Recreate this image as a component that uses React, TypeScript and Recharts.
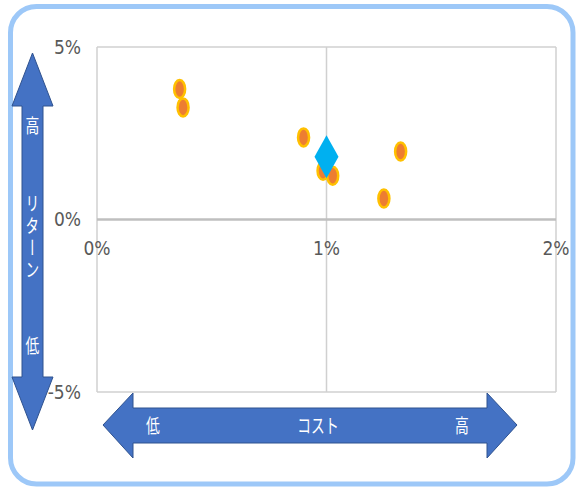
import React from 'react';
import { ScatterChart, Scatter, XAxis, YAxis, ReferenceLine, ReferenceDot } from 'recharts';

// Data (cost %, return %)
const fundCost = [0.36, 0.375, 0.9, 0.985, 1.027, 1.323, 1.25];
const fundReturn = [3.78, 3.25, 2.38, 1.41, 1.27, 1.97, 0.61];
const benchCost = [1.0];
const benchReturn = [1.82];
const xTicks = [0, 1, 2];
const yTicks = [-5, 0, 5];
const yAxisTitle = ['高', 'リターン', '低'];
const xAxisTitle = ['低', 'コスト', '高'];

const funds = fundCost.map((c, i) => ({ x: c, y: fundReturn[i] }));
const bench = benchCost.map((c, i) => ({ x: c, y: benchReturn[i] }));

const LABEL_FONT = "'Liberation Sans Narrow', 'DejaVu Sans Condensed', 'Noto Sans', sans-serif";
const CJK_FONT = "'Noto Sans CJK JP', sans-serif";
const GRID = '#d0d0d0';

const Ellipse = (props: any) => {
  const { cx, cy } = props;
  return <ellipse cx={cx} cy={cy} rx={5.5} ry={9} fill="#ED7D31" stroke="#FFC000" strokeWidth={2.5} />;
};

const Diamond = (props: any) => {
  const { cx, cy } = props;
  const w = 12, h = 21.5;
  return <polygon points={`${cx},${cy - h} ${cx + w},${cy} ${cx},${cy + h} ${cx - w},${cy}`} fill="#00B0F0" />;
};

const CjkText = ({ x, y, text, vertical }: { x: number; y: number; text: string; vertical?: boolean }) => (
  <text
    transform={`translate(${x},${y}) scale(0.95,1.35)`}
    textAnchor={vertical ? 'start' : 'middle'}
    dominantBaseline="central"
    fill="#ffffff"
    fontSize={14.5}
    fontFamily={CJK_FONT}
    letterSpacing={vertical ? 1.8 : 0}
    style={vertical ? { writingMode: 'vertical-rl' } : undefined}
  >
    {text}
  </text>
);

const Overlay = () => {
  const leftArrow = '32.5,53 53,106 43,106 43,377 53,377 32.5,430 12,377 22,377 22,106 12,106';
  const bottomArrow = '103,425 133,393 133,408 487,408 487,393 517,425 487,458 487,443 133,443 133,458';
  const leftY = [124, 194, 344];
  const bottomX = [153, 318, 462];
  return (
    <svg width={576} height={491} style={{ position: 'absolute', left: 0, top: 0, pointerEvents: 'none' }}>
      <polygon points={leftArrow} fill="#4472C4" stroke="#2F528F" strokeWidth={1} />
      <polygon points={bottomArrow} fill="#4472C4" stroke="#2F528F" strokeWidth={1} />
      {yAxisTitle.map((t, i) => (
        <CjkText key={'l' + i} x={32.5} y={leftY[i]} text={t} vertical={t.length > 1} />
      ))}
      {xAxisTitle.map((t, i) => (
        <CjkText key={'b' + i} x={bottomX[i]} y={424} text={t} />
      ))}
    </svg>
  );
};

export default function App() {
  return (
    <div style={{ position: 'absolute', left: 0, top: 0, width: 576, height: 491, background: '#fff' }}>
      <svg width={576} height={491} style={{ position: 'absolute', left: 0, top: 0 }}>
        <rect x={10.5} y={6.5} width={562.5} height={477.5} rx={26} ry={26} fill="#fff" stroke="#9DC8F8" strokeWidth={5} />
      </svg>
      <div style={{ position: 'absolute', left: 0, top: 0 }}>
        <ScatterChart width={576} height={491} margin={{ top: 47, right: 20, bottom: 99, left: 37 }}>
          <XAxis type="number" dataKey="x" domain={[0, 2]} ticks={xTicks} hide />
          <YAxis
            type="number"
            dataKey="y"
            domain={[-5, 5]}
            ticks={yTicks}
            width={60}
            axisLine={false}
            tickLine={false}
            tickSize={0}
            tickMargin={16}
            tickFormatter={(v: number) => `${v}%`}
            tick={{ fill: '#595959', fontSize: 19, fontFamily: LABEL_FONT }}
          />
          <ReferenceLine x={1} stroke={GRID} strokeWidth={1.5} />
          <ReferenceLine x={2} stroke={GRID} strokeWidth={1.5} />
          <ReferenceLine y={5} stroke={GRID} strokeWidth={1.5} />
          <ReferenceLine y={-5} stroke={GRID} strokeWidth={1.5} />
          <ReferenceLine x={0} stroke={GRID} strokeWidth={1.5} />
          <ReferenceLine y={0} stroke="#bfbfbf" strokeWidth={2.5} />
          {xTicks.map((t) => (
            <ReferenceDot
              key={t}
              x={t}
              y={0}
              r={0}
              fill="none"
              stroke="none"
              ifOverflow="visible"
              label={{ value: `${t}%`, position: 'bottom', offset: 22, fill: '#595959', fontSize: 19, fontFamily: LABEL_FONT }}
            />
          ))}
          <Scatter data={funds} shape={<Ellipse />} isAnimationActive={false} />
          <Scatter data={bench} shape={<Diamond />} isAnimationActive={false} />
        </ScatterChart>
      </div>
      <Overlay />
    </div>
  );
}
